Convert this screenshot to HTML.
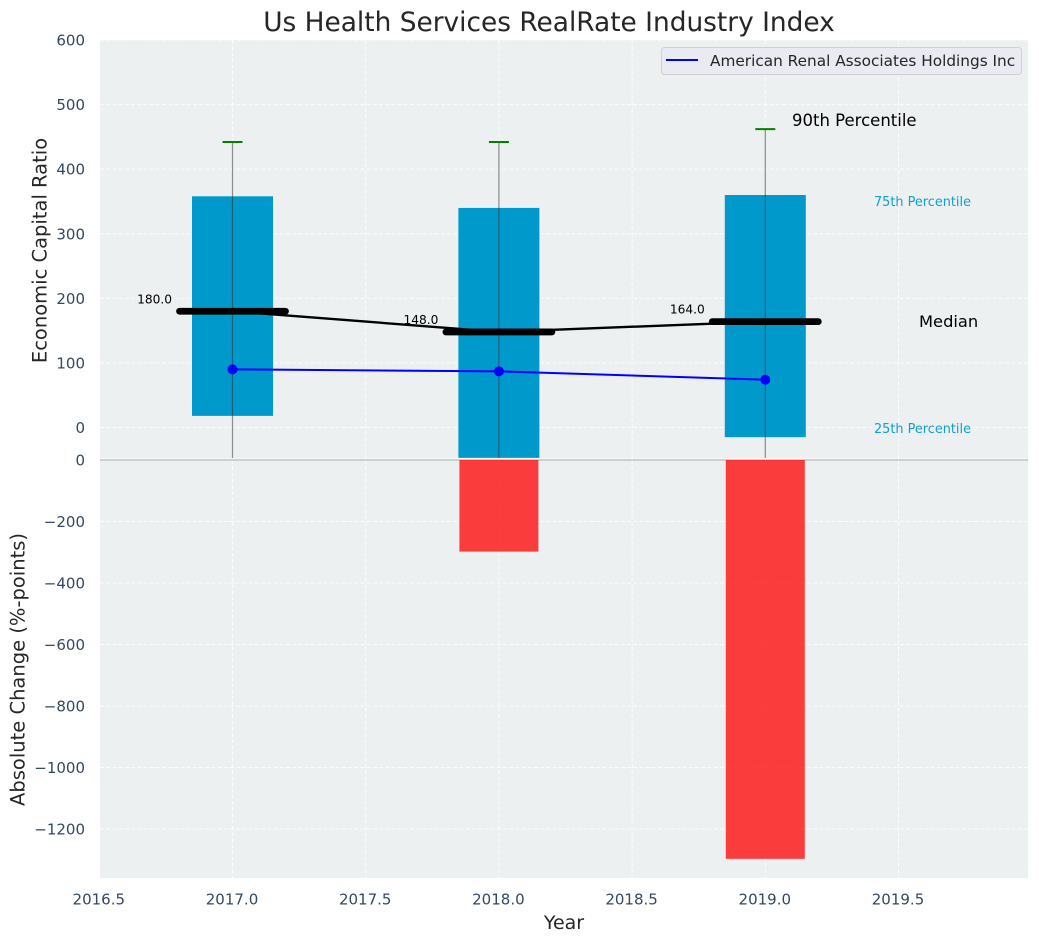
<!DOCTYPE html>
<html>
<head>
<meta charset="utf-8">
<title>Us Health Services RealRate Industry Index</title>
<style>
html,body{margin:0;padding:0;background:#fff;width:1039px;height:942px;overflow:hidden}
svg{display:block}
text{font-family:"DejaVu Sans","Liberation Sans",sans-serif}
</style>
</head>
<body>
<svg id="chart" xmlns="http://www.w3.org/2000/svg" width="1039" height="942" viewBox="0 0 1039 942">
  <rect x="0" y="0" width="1039" height="942" fill="#ffffff"/>
  <rect x="100" y="40" width="928" height="418.5" fill="#ecf0f1"/>
  <rect x="100" y="459" width="928" height="419" fill="#ecf0f1"/>
  <g id="grid"></g>
  <g id="lower"></g>
  <g id="upper"></g>
  <g id="ticks"></g>
  <text x="549" y="31" font-size="26.4" text-anchor="middle" fill="#262626">Us Health Services RealRate Industry Index</text>
  <text transform="translate(46.5 250.5) rotate(-90)" font-size="19.5" text-anchor="middle" fill="#262626">Economic Capital Ratio</text>
  <text transform="translate(24.5 669.5) rotate(-90)" font-size="19.5" text-anchor="middle" fill="#262626">Absolute Change (%-points)</text>
  <text x="564" y="929" font-size="19" text-anchor="middle" fill="#262626">Year</text>
  <text x="792" y="126" font-size="16.5" fill="#000000">90th Percentile</text>
  <text x="874" y="206" font-size="12.85" fill="#0f9fd0">75th Percentile</text>
  <text x="919" y="327" font-size="16.3" fill="#000000">Median</text>
  <text x="874" y="433" font-size="12.85" fill="#0f9fd0">25th Percentile</text>
  <g>
    <rect x="661.5" y="47.5" width="360" height="27" rx="3" fill="#eaeaf2" stroke="#d0d0d4" stroke-width="1"/>
    <line x1="666" y1="60" x2="698" y2="60" stroke="#0000ff" stroke-width="2"/>
    <text x="710" y="66" font-size="15.3" fill="#262626">American Renal Associates Holdings Inc</text>
  </g>
</svg>
<script>
const years = [2017, 2018, 2019];
const p90 = [442, 442, 462];
const p75 = [358, 340, 360];
const medians = [180, 148, 164];
const p25 = [18, -47, -15];
const whiskerLow = [-100, -100, -100];
const company = [90, 87, 74];
const absChange = [0, -298, -1297];
const xTicks = [2016.5, 2017, 2017.5, 2018, 2018.5, 2019, 2019.5];
const upperTicks = [0, 100, 200, 300, 400, 500, 600];
const lowerTicks = [0, -200, -400, -600, -800, -1000, -1200];

const NS = 'http://www.w3.org/2000/svg';
const xScale = v => 232.5 + (v - 2017) * 266.4;
const yUpper = v => 427.5 - v * 0.6458;
const yLower = v => 460 - v * 0.3075;
const clipUpper = y => Math.min(y, 458);

function make(parent, tag, attrs, content) {
  const el = document.createElementNS(NS, tag);
  for (const k in attrs) el.setAttribute(k, attrs[k]);
  if (content !== undefined) el.textContent = content;
  parent.appendChild(el);
  return el;
}
const grid = document.getElementById('grid');
const upper = document.getElementById('upper');
const lower = document.getElementById('lower');
const ticks = document.getElementById('ticks');
const gridStyle = {stroke: '#ffffff', 'stroke-width': 1, 'stroke-dasharray': '4 2.2', opacity: 0.85};

xTicks.forEach(t => {
  const x = xScale(t);
  const a = make(grid, 'line', Object.assign({x1: x, x2: x, y1: 40, y2: 458.5}, gridStyle));
  
  
  const b = make(grid, 'line', Object.assign({x1: x, x2: x, y1: 460, y2: 878}, gridStyle));
  
  
  const label = make(ticks, 'text', {x: x - 0.5, y: 904.5, 'font-size': 15, 'text-anchor': 'middle', fill: '#34495e'}, t.toFixed(1));
  
  
});

upperTicks.forEach(t => {
  const y = yUpper(t);
  const g = make(grid, 'line', Object.assign({x1: 100, x2: 1028, y1: y, y2: y}, gridStyle));
  
  
  const label = make(ticks, 'text', {x: 85, y: y + 5.5, 'font-size': 15, 'text-anchor': 'end', fill: '#34495e'}, String(t));
  
  
});

lowerTicks.forEach(t => {
  const y = yLower(t);
  if (t !== 0) {
    const g = make(grid, 'line', Object.assign({x1: 100, x2: 1028, y1: y, y2: y}, gridStyle));
    
    
  }
  const label = make(ticks, 'text', {x: 85, y: y + 5.5, 'font-size': 15, 'text-anchor': 'end', fill: '#34495e'}, String(t).replace('-', '\u2212'));
  
  
});

const axisLine = make(lower, 'line', {x1: 100, x2: 1028, y1: yLower(0), y2: yLower(0), stroke: '#bdbdbd', 'stroke-width': 1.2});



years.forEach((yr, i) => {
  if (absChange[i] === 0) return;
  const x = xScale(yr);
  const r = make(lower, 'rect', {x: x - 39.5, y: yLower(0), width: 79, height: yLower(absChange[i]) - yLower(0), fill: '#ff0000', 'fill-opacity': 0.75});
  
  
});

years.forEach((yr, i) => {
  const x = xScale(yr);
  const top = yUpper(p75[i]);
  const bottom = clipUpper(yUpper(p25[i]));
  const r = make(upper, 'rect', {x: x - 40.5, y: top, width: 81, height: bottom - top, fill: '#0099cc'});
  
  
});

const medianLine = make(upper, 'polyline', {points: years.map((yr, i) => xScale(yr) + ',' + yUpper(medians[i])).join(' '), fill: 'none', stroke: '#000000', 'stroke-width': 2.4});



years.forEach((yr, i) => {
  const x = xScale(yr);
  const whisker = make(upper, 'line', {x1: x, x2: x, y1: yUpper(p90[i]), y2: clipUpper(yUpper(whiskerLow[i])), stroke: '#333333', 'stroke-opacity': 0.55, 'stroke-width': 1.2});
  
  
  const cap = make(upper, 'line', {x1: x - 10, x2: x + 10, y1: yUpper(p90[i]), y2: yUpper(p90[i]), stroke: '#008000', 'stroke-width': 2});
  
  
  const med = make(upper, 'line', {x1: x - 53, x2: x + 53, y1: yUpper(medians[i]), y2: yUpper(medians[i]), stroke: '#000000', 'stroke-width': 6.8, 'stroke-linecap': 'round'});
  
  
  const label = make(upper, 'text', {x: x - 60.5, y: yUpper(medians[i]) - 8, 'font-size': 12.2, 'text-anchor': 'end', fill: '#000000'}, medians[i].toFixed(1));
  
  
});

const companyLine = make(upper, 'polyline', {points: years.map((yr, i) => xScale(yr) + ',' + yUpper(company[i])).join(' '), fill: 'none', stroke: '#0000ff', 'stroke-width': 2});



years.forEach((yr, i) => {
  const dot = make(upper, 'circle', {cx: xScale(yr), cy: yUpper(company[i]), r: 5, fill: '#0000ff'});
  
  
});
</script>
</body>
</html>
